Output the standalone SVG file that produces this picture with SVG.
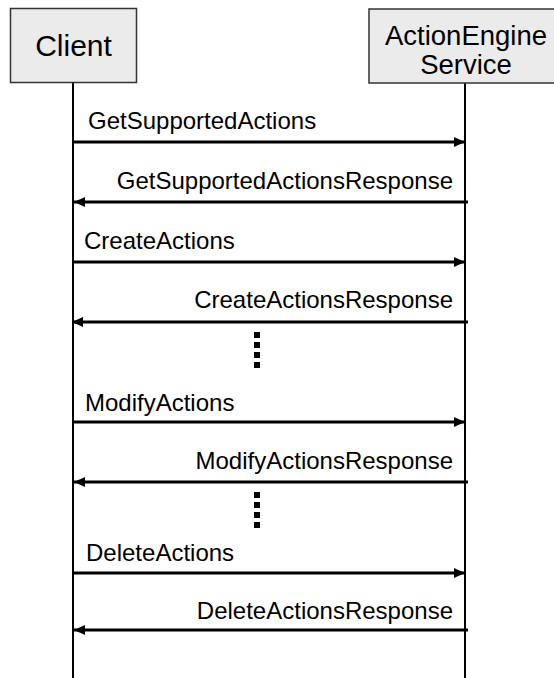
<svg xmlns="http://www.w3.org/2000/svg" width="554" height="678" viewBox="0 0 554 678">
<style>
.box{fill:#ebebeb;stroke:#333;stroke-width:1.5}
.life{stroke:#000;stroke-width:2}
.msg{stroke:#000;stroke-width:3;fill:none}
.lbl{font-family:"Liberation Sans",Arial,sans-serif;font-size:24px;fill:#000}
.hdr{font-family:"Liberation Sans",Arial,sans-serif;fill:#000;text-anchor:middle}
.dots{stroke:#000;stroke-width:6;stroke-dasharray:6 4}
</style>
<defs>
<marker id="ah" markerWidth="11" markerHeight="10" refX="11" refY="5" orient="auto" markerUnits="userSpaceOnUse">
<path d="M0,0 L11,5 L0,10 Z" fill="#000"/>
</marker>
</defs>
<g id="lifelines">
<line class="life" x1="73" y1="82" x2="73" y2="678"/>
<line class="life" x1="465" y1="83" x2="465" y2="678"/>
</g>
<g id="client">
<rect class="box" x="10.5" y="8.5" width="126" height="74"/>
<text class="hdr" x="73.5" y="56" font-size="30">Client</text>
</g>
<g id="actionengine">
<rect class="box" x="369" y="9" width="194" height="74"/>
<text class="hdr" x="466" y="45" font-size="27.5">ActionEngine</text>
<text class="hdr" x="466" y="74" font-size="27.5">Service</text>
</g>
<g id="connectors">
<line class="msg" x1="73" y1="142" x2="465" y2="142" marker-end="url(#ah)"/>
<line class="msg" x1="468" y1="202" x2="74" y2="202" marker-end="url(#ah)"/>
<line class="msg" x1="73" y1="262" x2="465" y2="262" marker-end="url(#ah)"/>
<line class="msg" x1="468" y1="322" x2="72" y2="322" marker-end="url(#ah)"/>
<line class="msg" x1="73" y1="422" x2="465" y2="422" marker-end="url(#ah)"/>
<line class="msg" x1="468" y1="482" x2="74" y2="482" marker-end="url(#ah)"/>
<line class="msg" x1="73" y1="573" x2="465" y2="573" marker-end="url(#ah)"/>
<line class="msg" x1="468" y1="630" x2="74" y2="630" marker-end="url(#ah)"/>
<line class="dots" x1="257" y1="332" x2="257" y2="370"/>
<line class="dots" x1="257" y1="492" x2="257" y2="530"/>
</g>
<g id="labels">
<text class="lbl" x="88" y="129">GetSupportedActions</text>
<text class="lbl" x="453" y="189" text-anchor="end">GetSupportedActionsResponse</text>
<text class="lbl" x="84" y="249">CreateActions</text>
<text class="lbl" x="453" y="308" text-anchor="end">CreateActionsResponse</text>
<text class="lbl" x="85" y="411">ModifyActions</text>
<text class="lbl" x="453" y="469" text-anchor="end">ModifyActionsResponse</text>
<text class="lbl" x="86" y="561">DeleteActions</text>
<text class="lbl" x="453" y="619" text-anchor="end">DeleteActionsResponse</text>
</g>
</svg>
